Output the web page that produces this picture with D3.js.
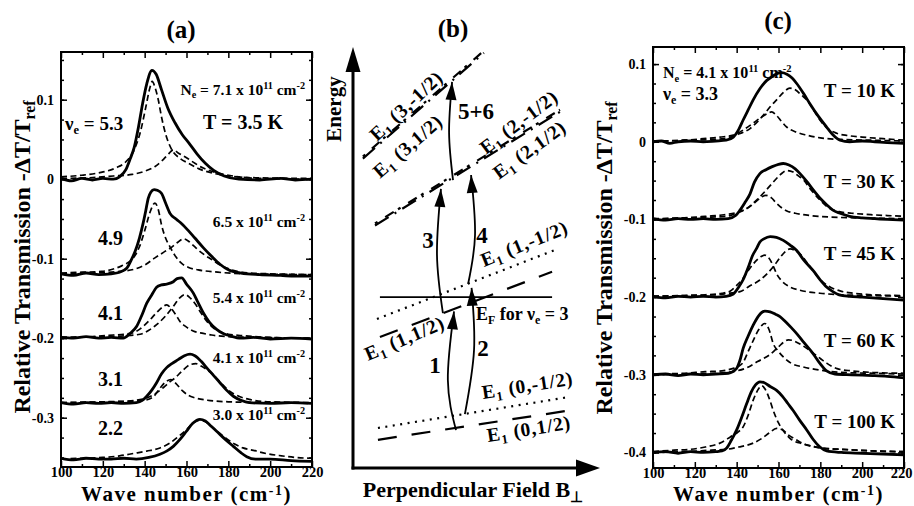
<!DOCTYPE html>
<html><head><meta charset="utf-8">
<script src="https://cdn.jsdelivr.net/npm/d3@7"></script>
<style>
body{margin:0;background:#fff}
svg{display:block}
text{font-family:"Liberation Serif","Times New Roman",serif;font-weight:bold;fill:#000}
</style>
</head><body>
<svg id="c" width="914" height="506"></svg>
<script>
// ---------------- DATA ----------------
const waveTicks = [100,120,140,160,180,200,220];
const waveMinor = [110,130,150,170,190,210];
const aYTicks = [0.1,0,-0.1,-0.2,-0.3];
const cYTicks = [0.1,0,-0.1,-0.2,-0.3,-0.4];
const aOffsets = [0,-0.12,-0.2,-0.282,-0.352];
const cOffsets = [0,-0.1,-0.2,-0.3,-0.4];
const aNu = ["5.3","4.9","4.1","3.1","2.2"];
const aNe = ["7.1","6.5","5.4","4.1","3.0"];
const cTemps = ["10","30","45","60","100"];
const cNe = "4.1", cNu = "3.3";

// panel (a) curves: [wave number, value above the curve's offset]
const a1Solid=[[100,0.001],[105,-0.002],[110,0.001],[115,-0.001],[120,0.001],[125,0],[128,0.003],[131,0.012],[133,0.025],[135,0.04],[137,0.065],[139,0.095],[141,0.12],[143.5,0.137],[145.5,0.132],[148,0.113],[151,0.09],[154.5,0.071],[158,0.056],[161,0.046],[165,0.032],[169,0.02],[173,0.011],[178,0.004],[185,0],[195,-0.001],[205,0.001],[212,-0.001],[220,0]];
const a1DashA=[[100,0.003],[110,0.005],[118,0.008],[126,0.014],[131,0.022],[135,0.037],[138,0.06],[140.5,0.09],[142.5,0.115],[143.6,0.123],[145,0.115],[146.5,0.1],[148,0.079],[150,0.057],[153,0.037],[157,0.026],[161,0.02],[166,0.013],[172,0.008],[180,0.004],[190,0.002],[220,0.001]];
const a1DashB=[[100,0.001],[115,0.002],[125,0.004],[134,0.006],[140,0.01],[145,0.016],[149,0.025],[151.5,0.032],[153.7,0.037],[156,0.033],[160,0.027],[164,0.02],[168,0.014],[172,0.01],[178,0.006],[185,0.003],[195,0.001],[220,0]];
const a2Solid=[[100,0.001],[106,-0.001],[112,0.002],[118,0],[124,0.001],[128,0.003],[131.4,0.008],[133.5,0.018],[135.4,0.029],[137.5,0.046],[139.3,0.065],[140.5,0.08],[141.7,0.096],[143,0.104],[144.5,0.107],[146,0.106],[148.1,0.102],[150,0.09],[152.1,0.077],[155,0.07],[157.7,0.064],[161,0.055],[164,0.046],[168,0.034],[172,0.023],[176,0.013],[180,0.006],[186,0.002],[195,0],[205,-0.001],[212,-0.002],[220,-0.002]];
const a2DashA=[[100,0.002],[110,0.003],[119.4,0.004],[125,0.007],[129,0.011],[132,0.015],[134.6,0.021],[137.5,0.035],[140.1,0.056],[142.5,0.078],[144.9,0.09],[146.5,0.082],[148.1,0.062],[150,0.046],[152.1,0.035],[155,0.022],[157.7,0.014],[161,0.009],[165.6,0.006],[175,0.003],[190,0.001],[220,0]];
const a2DashB=[[100,0.001],[115,0.002],[128,0.004],[135.4,0.007],[140,0.012],[144.9,0.021],[149,0.028],[152.1,0.033],[155.5,0.04],[158.5,0.045],[161,0.042],[163.5,0.036],[165.6,0.031],[168.5,0.025],[172,0.019],[176,0.012],[181.6,0.006],[190,0.002],[200,0.001],[220,0]];
const a3Solid=[[100,0.001],[106,0],[112,0.002],[118,0],[124,0.001],[129.8,0],[133,0.006],[136.2,0.015],[138.5,0.028],[141,0.044],[143.5,0.055],[145.7,0.064],[148,0.067],[150.5,0.068],[153.7,0.071],[155.5,0.075],[157.7,0.076],[160,0.068],[163.2,0.057],[165.5,0.045],[168,0.032],[171,0.02],[174.4,0.011],[177.5,0.006],[180.8,0.003],[186,0],[192,0.001],[200,-0.001],[210,0],[220,-0.001]];
const a3DashA=[[100,0.001],[115,0.002],[125,0.004],[130,0.005],[134.6,0.007],[138,0.012],[142.5,0.023],[146,0.033],[148.5,0.039],[150.5,0.042],[152.5,0.038],[155,0.029],[156.9,0.021],[160,0.014],[163.2,0.009],[168,0.006],[172,0.004],[180,0.002],[195,0.001],[220,0]];
const a3DashB=[[100,0.001],[120,0.002],[130,0.003],[137.8,0.005],[142,0.01],[145.7,0.017],[150,0.028],[153.7,0.04],[156.5,0.05],[159.3,0.055],[162,0.05],[164.5,0.042],[166.4,0.034],[169.5,0.022],[172.8,0.013],[176,0.008],[180,0.005],[188,0.003],[200,0.001],[220,0]];
const a4Solid=[[100,0.001],[106,-0.001],[112,0.001],[118,0],[124,0.001],[130,0],[136,0.001],[139,0.004],[141,0.009],[143.5,0.017],[145.7,0.026],[148,0.037],[150.5,0.045],[153,0.05],[156,0.055],[159,0.06],[161.7,0.062],[164,0.06],[167,0.053],[169.6,0.045],[173,0.035],[176,0.026],[179,0.017],[182.4,0.009],[186,0.004],[190,0.001],[200,0],[210,0.001],[220,0]];
const a4DashA=[[100,0.001],[125,0.002],[135,0.003],[140,0.004],[144,0.008],[147,0.018],[150,0.027],[152.5,0.03],[155,0.025],[158,0.016],[161,0.01],[164,0.007],[170,0.004],[180,0.002],[200,0.001],[220,0]];
const a4DashB=[[100,0.001],[120,0.002],[132,0.003],[140,0.006],[145,0.012],[149,0.02],[152,0.027],[154.5,0.032],[158,0.041],[162,0.049],[164.5,0.05],[167,0.047],[170,0.042],[172.8,0.036],[176,0.027],[180.8,0.015],[185,0.009],[190,0.005],[200,0.002],[220,0.001]];
const a5Solid=[[100,0.001],[106,-0.001],[112,0.001],[118,0],[124,0],[130,0.001],[136,0],[142,0.002],[147.3,0.006],[150.5,0.01],[153.7,0.016],[157,0.025],[160,0.035],[163,0.045],[166.4,0.05],[169,0.048],[171.5,0.042],[174.4,0.035],[178,0.026],[182.4,0.016],[186,0.008],[188.8,0.003],[193,0],[200,0],[210,-0.002],[220,-0.003]];
const a5Dash=[[100,0],[110,0.001],[120,0.002],[128,0.004],[134.6,0.007],[141,0.01],[147.3,0.014],[152,0.02],[156,0.028],[160,0.037],[163,0.045],[166.4,0.049],[169,0.047],[172,0.041],[175,0.034],[179,0.026],[183,0.019],[187,0.014],[191.9,0.011],[198,0.007],[205.6,0.004],[212,0.002],[220,0.001]];

// panel (c) curves
const c1Solid=[[100,0],[104,0.001],[108,-0.002],[112,0],[118,0.001],[124,0],[130,0.001],[135,0.002],[138.4,0.006],[141,0.016],[143.1,0.028],[145.5,0.041],[147.9,0.054],[151,0.068],[154.4,0.079],[157,0.084],[159.5,0.088],[161.5,0.089],[164,0.087],[166.5,0.082],[168.7,0.075],[172,0.062],[175,0.049],[179,0.033],[183,0.019],[186,0.009],[189.4,0.002],[194,0],[200,0.001],[206,0],[212,-0.001],[220,-0.002]];
const c1DashA=[[100,0.001],[115,0.002],[124,0.004],[132,0.006],[138.4,0.0085],[143,0.015],[147.9,0.024],[152,0.032],[154.5,0.036],[156.7,0.0385],[159,0.034],[161.5,0.026],[163.9,0.019],[168,0.013],[173.5,0.0085],[180,0.005],[190,0.003],[205,0.002],[220,0.001]];
const c1DashB=[[100,0],[115,0.002],[128,0.003],[134,0.004],[140,0.009],[146.4,0.017],[150,0.026],[152.7,0.034],[156,0.045],[159.1,0.054],[162.5,0.064],[165.4,0.069],[168,0.067],[171,0.06],[173.5,0.054],[177,0.04],[179.8,0.028],[183,0.018],[187.8,0.011],[193,0.008],[200,0.006],[210,0.004],[220,0.002]];
const c2Solid=[[100,0.001],[106,-0.001],[112,0.001],[118,0],[124,0.001],[130,0],[136,0.001],[139.5,0.005],[141.6,0.012],[144,0.022],[146.4,0.033],[148.5,0.048],[151.1,0.059],[154,0.064],[157,0.068],[160,0.071],[162.3,0.072],[165,0.07],[168,0.065],[170.3,0.059],[173.5,0.049],[176.6,0.038],[180,0.027],[183,0.019],[186,0.012],[189.4,0.008],[194,0.004],[200,0.002],[206,0.001],[212,0],[220,-0.001]];
const c2DashA=[[100,0.001],[115,0.002],[125,0.004],[134,0.006],[140,0.009],[144.8,0.014],[148,0.02],[151,0.027],[154,0.031],[156.5,0.028],[159,0.021],[161.5,0.015],[164,0.011],[168,0.008],[175,0.005],[185,0.003],[200,0.002],[220,0.001]];
const c2DashB=[[100,0],[115,0.002],[128,0.003],[135,0.004],[140,0.008],[144.8,0.014],[148,0.021],[151.1,0.029],[154.5,0.039],[157.5,0.048],[161,0.058],[164,0.063],[167,0.061],[169.5,0.056],[171.9,0.051],[175,0.04],[179.8,0.025],[184,0.015],[189,0.01],[195,0.008],[205,0.006],[212,0.005],[220,0.004]];
const c3Solid=[[100,0.001],[106,-0.001],[112,0.001],[118,0],[124,0.001],[130,0],[135,0.001],[138.4,0.004],[141,0.013],[143.2,0.023],[145.5,0.038],[147.5,0.053],[149.6,0.063],[151.1,0.071],[153,0.075],[156,0.078],[159,0.077],[162.3,0.073],[165.5,0.067],[168.7,0.06],[172,0.048],[176.6,0.034],[180,0.022],[183,0.013],[186,0.007],[189,0.003],[194,0.001],[200,0],[210,-0.002],[220,-0.004]];
const c3DashA=[[100,0.001],[115,0.002],[125,0.003],[133,0.005],[137,0.008],[140,0.015],[143,0.024],[146,0.036],[149,0.046],[151.5,0.052],[153.5,0.054],[155.5,0.05],[157.5,0.04],[159.1,0.03],[161.5,0.021],[165.5,0.013],[170,0.009],[179.8,0.005],[190,0.003],[205,0.002],[220,0.001]];
const c3DashB=[[100,0.001],[115,0.002],[130,0.003],[136,0.005],[141.6,0.007],[146,0.014],[151.1,0.022],[154.5,0.03],[157.5,0.039],[160.5,0.05],[163,0.058],[165.5,0.062],[168,0.06],[170.5,0.055],[173.5,0.045],[176.5,0.034],[179.8,0.023],[184,0.014],[189.4,0.008],[196,0.005],[205,0.003],[220,0.002]];
const c4Solid=[[100,0],[106,0.001],[112,-0.001],[118,0.001],[124,0],[130,0.001],[136,0.002],[139.9,0.008],[141.5,0.018],[143.1,0.034],[145.5,0.05],[147.9,0.064],[150.5,0.076],[153.5,0.082],[156,0.081],[158.5,0.078],[160.7,0.075],[163.5,0.068],[166,0.061],[168.7,0.053],[172,0.042],[176.6,0.027],[180,0.014],[183,0.005],[187,0.001],[195,0],[205,-0.001],[212,-0.002],[220,-0.004]];
const c4DashA=[[100,0.001],[115,0.002],[125,0.004],[133,0.005],[138,0.008],[141,0.011],[143.1,0.016],[145.5,0.03],[147.9,0.044],[150.5,0.058],[153.5,0.066],[155.5,0.058],[157.5,0.04],[160,0.03],[162.3,0.023],[166,0.015],[171.9,0.01],[180,0.006],[190,0.003],[205,0.002],[220,0.001]];
const c4DashB=[[100,0],[115,0.001],[130,0.002],[138,0.004],[144.8,0.009],[150,0.017],[155.9,0.026],[160,0.036],[163,0.043],[164.7,0.045],[167,0.044],[170,0.04],[173.5,0.034],[177,0.027],[180,0.021],[183,0.015],[188,0.008],[195,0.005],[205,0.003],[220,0.002]];
const c5Solid=[[100,0],[106,0.001],[112,-0.001],[118,0.001],[124,0],[130,0.001],[133,0.002],[135.3,0.006],[137.5,0.016],[140,0.029],[142.5,0.046],[144.8,0.063],[147,0.078],[149,0.087],[151.1,0.091],[153,0.09],[156,0.085],[159.1,0.08],[162,0.072],[164.5,0.063],[167,0.054],[170,0.042],[173.5,0.029],[176.5,0.017],[179.8,0.007],[183,0.002],[190,0],[200,-0.001],[210,-0.002],[220,-0.003]];
const c5DashA=[[100,0.001],[110,0.003],[117.7,0.004],[125,0.007],[132,0.012],[137,0.02],[140.5,0.026],[143.1,0.033],[145.5,0.048],[148,0.068],[150.5,0.082],[151.9,0.086],[153.5,0.082],[155.5,0.07],[157.5,0.054],[160,0.038],[162.3,0.028],[166,0.017],[171.9,0.011],[180,0.006],[190,0.004],[205,0.002],[220,0.001]];
const c5DashB=[[100,0],[115,0.001],[128,0.003],[135,0.004],[141,0.007],[147.9,0.012],[152,0.018],[155.5,0.025],[159.1,0.031],[162,0.029],[165,0.022],[168.7,0.016],[172,0.011],[176,0.008],[182,0.005],[190,0.004],[205,0.002],[220,0.001]];

// panel (b) schematic, in arbitrary units: field B (0..100), energy E (0..100)
const levelN    = [0,0,1,1,2,2,3,3];
const levelSpin = ["1/2","-1/2","1/2","-1/2","1/2","-1/2","1/2","-1/2"];
const levelStart= [[10.1,6.7],[10.1,9.5],[10.9,31.1],[9.7,35.4],[8.9,57.6],[8.9,58.1],[4.0,73.5],[4.0,74.0]];
const levelEnd  = [[89.1,13.8],[87.9,16.9],[80.6,46.6],[81.8,51.8],[83.8,84.6],[83.8,85.1],[53.0,98.6],[53.0,99.1]];
const fermiLine = [[10.9,40.6],[80.6,40.6]];
const transLabels = ["1","2","3","4","5+6"];
const transPaths = [
  [[41.7,9.0],[38.4,20.9],[40.9,37.2]],
  [[45.3,12.8],[49.0,28.0],[48.0,42.8]],
  [[36.4,36.8],[34.0,50.6],[35.6,66.3]],
  [[46.6,43.7],[49.4,55.3],[47.8,69.6]],
  [[40.5,68.4],[38.9,79.6],[40.1,91.7]]
];

// ---------------- LAYOUT ----------------
const svg = d3.select("#c");
const FS = "'Liberation Serif','Times New Roman',serif";

function rich(sel, x, y, segs, size, anchor, transform, supLift){
  const t = sel.append("text").attr("x",x).attr("y",y)
    .attr("font-size",size).attr("text-anchor",anchor||"start");
  if(transform) t.attr("transform",transform);
  const lift = supLift || 0.38;
  let shift = 0;
  segs.forEach(s=>{
    const txt = Array.isArray(s)? s[0] : s;
    const kind = Array.isArray(s)? s[1] : null;
    const target = kind==="sup" ? -lift*size : kind==="sub" ? 0.22*size : 0;
    const ts = t.append("tspan").attr("dy", target-shift).text(txt);
    if(kind) ts.attr("font-size", size*0.66);
    shift = target;
  });
  return t;
}

function spectraPanel(box, yDomain, yTicks, offsets, solids, dashes, id){
  const x = d3.scaleLinear().domain([100,220]).range([box.l, box.r]);
  const y = d3.scaleLinear().domain(yDomain).range([box.b, box.t]);
  const g = svg.append("g");
  g.append("clipPath").attr("id",id).append("rect")
    .attr("x",box.l).attr("y",box.t).attr("width",box.r-box.l).attr("height",box.b-box.t);
  const fmt = d => d===0 ? "0" : (d<0?"-":"") + Math.abs(d).toFixed(1);
  const yMinor = d3.range(Math.ceil(yDomain[0]/0.025), Math.floor(yDomain[1]/0.025)+1).map(k=>k*0.025);
  const ax = (a)=>a.call(s=>s.select(".domain").remove()).call(s=>s.selectAll("line").attr("stroke-width",1.5));
  const xl = g.append("g").attr("transform",`translate(0,${box.b})`)
    .call(d3.axisBottom(x).tickValues(waveTicks).tickSize(-6).tickPadding(0).tickFormat(d3.format("d")))
    .call(ax);
  xl.selectAll("text").attr("font-size",14.5).attr("font-family",FS).attr("font-weight","bold")
    .attr("dx", d => (box.r>900 && d===220) ? -3 : 0);
  g.append("g").attr("transform",`translate(0,${box.b})`)
    .call(d3.axisBottom(x).tickValues(waveMinor).tickSize(-3).tickFormat("")).call(ax);
  g.append("g").attr("transform",`translate(0,${box.t})`)
    .call(d3.axisTop(x).tickValues(waveTicks).tickSize(-6).tickFormat("")).call(ax);
  g.append("g").attr("transform",`translate(0,${box.t})`)
    .call(d3.axisTop(x).tickValues(waveMinor).tickSize(-3).tickFormat("")).call(ax);
  g.append("g").attr("transform",`translate(${box.l},0)`)
    .call(d3.axisLeft(y).tickValues(yTicks).tickSize(-6).tickPadding(7).tickFormat(fmt))
    .call(ax).selectAll("text").attr("font-size",14).attr("font-family",FS).attr("font-weight","bold");
  g.append("g").attr("transform",`translate(${box.l},0)`)
    .call(d3.axisLeft(y).tickValues(yMinor).tickSize(-3).tickFormat("")).call(ax);
  g.append("g").attr("transform",`translate(${box.r},0)`)
    .call(d3.axisRight(y).tickValues(yTicks).tickSize(-6).tickFormat("")).call(ax);
  g.append("g").attr("transform",`translate(${box.r},0)`)
    .call(d3.axisRight(y).tickValues(yMinor).tickSize(-3).tickFormat("")).call(ax);

  const cg = g.append("g").attr("clip-path",`url(#${id})`);
  offsets.forEach((off,i)=>{
    const line = d3.line().x(d=>x(d[0])).y(d=>y(off+d[1])).curve(d3.curveMonotoneX);
    dashes[i].forEach(ds=>{
      cg.append("path").attr("d",line(ds)).attr("fill","none").attr("stroke","#000")
        .attr("stroke-width",1.7).attr("stroke-dasharray","6,3.5");
    });
    cg.append("path").attr("d",line(solids[i])).attr("fill","none").attr("stroke","#000")
      .attr("stroke-width",2.8).attr("stroke-linejoin","round");
  });
  g.append("rect").attr("x",box.l).attr("y",box.t).attr("width",box.r-box.l).attr("height",box.b-box.t)
    .attr("fill","none").attr("stroke","#000").attr("stroke-width",2);
  rich(g, (box.l+box.r)/2, 501, ["Wave number (cm",["-1","sup"],")"], 21, "middle", null, 0.3).attr("letter-spacing",1.5);
  return {x,y,g};
}

// ---- panel (a)
const aBox = {l:61,r:312,t:52,b:467};
spectraPanel(aBox, [-0.362,0.16], aYTicks, aOffsets,
  [a1Solid,a2Solid,a3Solid,a4Solid,a5Solid],
  [[a1DashA,a1DashB],[a2DashA,a2DashB],[a3DashA,a3DashB],[a4DashA,a4DashB],[a5Dash]], "clipA");
rich(svg, 181, 38, ["(a)"], 25, "middle");
rich(svg, 0, 0, ["Relative Transmission -\u0394T/T",["ref","sub"]], 24, "middle", "translate(30,257) rotate(-90)");
rich(svg, 65, 130, ["\u03bd",["e","sub"]," = "+aNu[0]], 19, "start");
const nuBase = [130,245,320,386,435];
aNu.slice(1).forEach((v,i)=> rich(svg, 98, nuBase[i+1], [v], 20, "start"));
rich(svg, 203, 129, ["T = 3.5 K"], 20, "start");
const neBase = [95,227,303,363,420];
aNe.forEach((v,i)=>{
  const segs = (i===0? [["N"],["e","sub"],[" = "+v+" x 10"]] : [[v+" x 10"]]).concat([["11","sup"],[" cm"],["-2","sup"]]);
  rich(svg, 305, neBase[i], segs, 15.5, "end");
});

// ---- panel (c)
const cBox = {l:653,r:904,t:47,b:468};
spectraPanel(cBox, [-0.42,0.122], cYTicks, cOffsets,
  [c1Solid,c2Solid,c3Solid,c4Solid,c5Solid],
  [[c1DashA,c1DashB],[c2DashA,c2DashB],[c3DashA,c3DashB],[c4DashA,c4DashB],[c5DashA,c5DashB]], "clipC");
rich(svg, 778, 29, ["(c)"], 25, "middle");
rich(svg, 0, 0, ["Relative Transmission -\u0394T/T",["ref","sub"]], 24, "middle", "translate(612,258) rotate(-90)");
rich(svg, 663, 78, ["N",["e","sub"]," = "+cNe+" x 10",["11","sup"]," cm",["-2","sup"]], 16, "start");
rich(svg, 663, 100, ["\u03bd",["e","sub"]," = "+cNu], 18, "start");
const tBase = [97,188,260,347,428];
cTemps.forEach((t,i)=> rich(svg, 895, tBase[i], ["T = "+t+" K"], 19, "end"));

// ---- panel (b)
const xB = d3.scaleLinear().domain([0,100]).range([353,600]);
const yE = d3.scaleLinear().domain([0,100]).range([468,47]);
const bg = svg.append("g");
rich(svg, 453, 37, ["(b)"], 25, "middle");
function head(tip, from, len, hw){
  const dx=tip[0]-from[0], dy=tip[1]-from[1], L=Math.hypot(dx,dy), ux=dx/L, uy=dy/L;
  const bx=tip[0]-ux*len, by=tip[1]-uy*len;
  bg.append("path").attr("d",`M${tip[0]},${tip[1]}L${bx-uy*hw},${by+ux*hw}L${bx+uy*hw},${by-ux*hw}Z`).attr("fill","#000");
}
bg.append("line").attr("x1",xB(0)).attr("y1",yE(0)+1.5).attr("x2",xB(0)).attr("y2",yE(100)+20).attr("stroke","#000").attr("stroke-width",3);
bg.append("line").attr("x1",xB(0)-1.5).attr("y1",yE(0)).attr("x2",xB(100)-20).attr("y2",yE(0)).attr("stroke","#000").attr("stroke-width",3);
head([xB(0),yE(100)],[xB(0),yE(50)],25,7.5);
head([xB(100),yE(0)],[xB(50),yE(0)],24,8.5);
rich(svg, 0, 0, ["Energy"], 21, "middle", "translate(341,109) rotate(-90)");
rich(svg, 473, 497, ["Perpendicular Field B",["\u22a5","sub"]], 22, "middle");

const lineP = d3.line().x(d=>xB(d[0])).y(d=>yE(d[1]));
levelN.forEach((n,i)=>{
  let dash;
  if(n<2) dash = levelSpin[i]==="1/2" ? "19,15" : "2,5.5";
  else dash = levelSpin[i]==="1/2" ? "16,7,2,7" : "3,9,10,5";
  bg.append("path").attr("d",lineP([levelStart[i],levelEnd[i]])).attr("fill","none")
    .attr("stroke","#000").attr("stroke-width",2.2).attr("stroke-dasharray",dash);
});
bg.append("path").attr("d",lineP(fermiLine)).attr("stroke","#000").attr("stroke-width",1.8);

const curveP = d3.line().x(d=>xB(d[0])).y(d=>yE(d[1])).curve(d3.curveNatural);
transPaths.forEach(p=>{
  bg.append("path").attr("d",curveP(p)).attr("fill","none").attr("stroke","#000").attr("stroke-width",1.8);
  const tip=[xB(p[2][0]),yE(p[2][1])], mid=[xB(p[1][0]),yE(p[1][1])];
  head(tip, mid, 18, 5.5);
});
const transLabelPos = [[435,373],[483,356],[428,248],[482,243],[476,119]];
transLabels.forEach((t,i)=> rich(svg, transLabelPos[i][0], transLabelPos[i][1], [t], 23, "middle"));
rich(svg, 476, 320, ["E",["F","sub"]," for \u03bd",["e","sub"]," = 3"], 18, "start");

const levelLabelPos = [[488,442,-9],[483,399,-9],[368,361,-23],[484,267,-22],[499,180,-36],[486,155,-37],[380,179,-41],[377,142,-43]];
levelN.forEach((n,i)=>{
  const p = levelLabelPos[i];
  rich(svg, 0, 0, ["E",["1","sub"]," ("+n+","+levelSpin[i]+")"], 19.5, "start", `translate(${p[0]},${p[1]}) rotate(${p[2]})`)
    .attr("letter-spacing",0.8);
});
</script>
</body></html>
